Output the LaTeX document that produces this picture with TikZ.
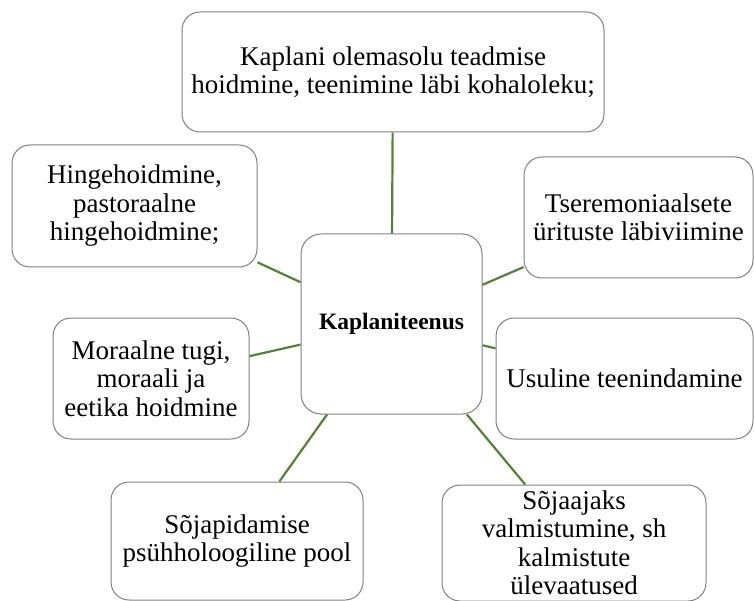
\documentclass[tikz,border=0pt]{standalone}
\usepackage{fontspec}
\setmainfont{Liberation Serif}
\definecolor{boxgray}{RGB}{128,128,128}
\definecolor{linkgreen}{RGB}{84,130,53}

\begin{document}
\begin{tikzpicture}[x=1pt,y=-1pt,
  box/.style={draw=boxgray,line width=1pt,rounded corners=18pt,fill=white,
    align=center,inner sep=0pt,font=\fontsize{27}{28.5}\selectfont},
  link/.style={linkgreen,line width=2.2pt}]
\useasboundingbox (0,0) rectangle (754,601);

% centre
\node[box,minimum width=181pt,minimum height=180pt,rounded corners=20pt,
  font=\fontsize{23.5}{28}\selectfont\bfseries] (hub) at (391.5,324) {Kaplaniteenus};

% outer boxes
\node[box,minimum width=422pt,minimum height=120pt] (presence) at (393,72)
  {Kaplani olemasolu teadmise\\hoidmine, teenimine läbi kohaloleku;};
\node[box,minimum width=245pt,minimum height=122pt] (pastoral) at (134.5,206)
  {Hingehoidmine,\\pastoraalne\\hingehoidmine;};
\node[box,minimum width=229pt,minimum height=121pt] (ceremony) at (638.5,217.5)
  {Tseremoniaalsete\\ürituste läbiviimine};
\node[box,minimum width=196pt,minimum height=121pt] (moral) at (151,378.5)
  {Moraalne tugi,\\moraali ja\\eetika hoidmine};
\node[box,minimum width=257pt,minimum height=121pt] (religious) at (624.5,378.5)
  {Usuline teenindamine};
\node[box,minimum width=252pt,minimum height=118pt] (psych) at (237,541)
  {Sõjapidamise\\psühholoogiline pool};
\node[box,minimum width=264pt,minimum height=116pt] (wartime) at (574,543)
  {Sõjaajaks\\valmistumine, sh\\kalmistute\\ülevaatused};

% connectors
\foreach \n in {presence,pastoral,ceremony,moral,religious,psych,wartime}
  \draw[link] (\n) -- (hub);
\end{tikzpicture}
\end{document}
